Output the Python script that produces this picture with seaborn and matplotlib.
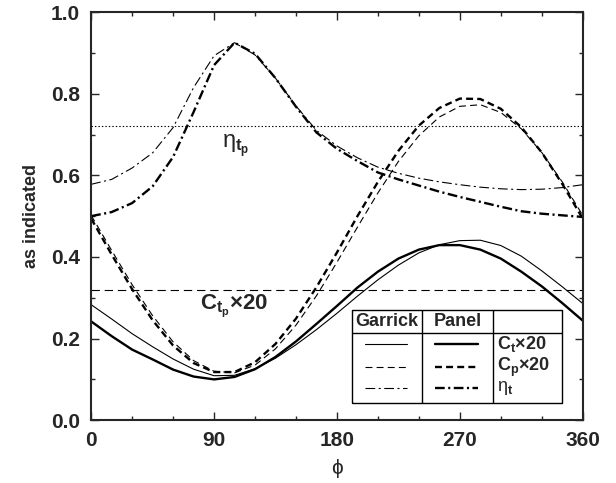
import numpy as np
import pandas as pd
import matplotlib
matplotlib.use("Agg")
import matplotlib.pyplot as plt
import seaborn as sns

# ------------------------------------------------------------
# values (phi in degrees)
# ------------------------------------------------------------
phi = [0, 15, 30, 45, 60, 75, 90, 105, 120, 135, 150, 165, 180,
       195, 210, 225, 240, 255, 270, 285, 300, 315, 330, 345, 360]

ct_garrick = [0.283, 0.248, 0.212, 0.180, 0.150, 0.125, 0.109, 0.110, 0.126,
              0.152, 0.185, 0.222, 0.262, 0.304, 0.344, 0.380, 0.410, 0.430,
              0.440, 0.441, 0.428, 0.402, 0.366, 0.327, 0.286]
ct_panel = [0.242, 0.206, 0.173, 0.149, 0.124, 0.107, 0.100, 0.106, 0.125,
            0.155, 0.193, 0.236, 0.280, 0.325, 0.364, 0.396, 0.418, 0.429,
            0.429, 0.418, 0.396, 0.364, 0.328, 0.287, 0.244]
cp_garrick = [0.502, 0.416, 0.332, 0.256, 0.192, 0.146, 0.120, 0.116, 0.135,
              0.175, 0.233, 0.305, 0.387, 0.473, 0.557, 0.634, 0.697, 0.743,
              0.769, 0.773, 0.754, 0.714, 0.656, 0.584, 0.502]
cp_panel = [0.494, 0.406, 0.321, 0.245, 0.183, 0.140, 0.118, 0.118, 0.142,
            0.187, 0.249, 0.326, 0.411, 0.500, 0.584, 0.660, 0.722, 0.765,
            0.788, 0.787, 0.763, 0.718, 0.656, 0.579, 0.494]
eta_garrick = [0.578, 0.590, 0.618, 0.655, 0.717, 0.815, 0.893, 0.925, 0.895,
               0.838, 0.770, 0.710, 0.672, 0.643, 0.620, 0.605, 0.593, 0.584,
               0.577, 0.571, 0.567, 0.565, 0.566, 0.570, 0.577]
eta_panel = [0.500, 0.510, 0.532, 0.573, 0.645, 0.755, 0.870, 0.925, 0.898,
             0.838, 0.768, 0.705, 0.665, 0.635, 0.607, 0.590, 0.575, 0.560,
             0.547, 0.535, 0.523, 0.512, 0.506, 0.502, 0.498]

eta_tp = 0.72      # propulsive efficiency (dotted)
ct_tp = 0.32       # mean thrust x20 (dashed)

xticks = [0, 90, 180, 270, 360]
yticks = [0.0, 0.2, 0.4, 0.6, 0.8, 1.0]

# ------------------------------------------------------------
# style
# ------------------------------------------------------------
sns.set_style("ticks")
plt.rcParams["font.family"] = ["Liberation Sans", "DejaVu Sans"]
plt.rcParams["mathtext.fontset"] = "custom"
plt.rcParams["mathtext.rm"] = "Liberation Sans"
plt.rcParams["mathtext.it"] = "Liberation Sans"
plt.rcParams["mathtext.bf"] = "Liberation Sans:bold"
plt.rcParams["lines.scale_dashes"] = False

fig, ax = plt.subplots(figsize=(6.16, 4.83), dpi=100)
fig.subplots_adjust(left=0.148, right=0.946, bottom=0.130, top=0.975)

thin, thick = 0.8, 1.7
solid = "-"
dash = (0, (5, 3))
dashdot = (0, (7, 2.5, 1.5, 2.5))

series = [
    (ct_garrick, solid, thin), (ct_panel, solid, thick),
    (cp_garrick, dash, thin), (cp_panel, dash, thick),
    (eta_garrick, dashdot, thin), (eta_panel, dashdot, thick),
]
for vals, ls, lw in series:
    df = pd.DataFrame({"phi": phi, "val": vals})
    sns.lineplot(data=df, x="phi", y="val", ax=ax, color="black",
                 linewidth=lw, linestyle=ls)

ax.axhline(eta_tp, color="black", linewidth=0.8, linestyle=(0, (1, 1.5)))
ax.axhline(ct_tp, color="black", linewidth=0.8, linestyle=(0, (6, 3.5)))

ax.text(0.266, 0.672, r"$\eta_{\mathbf{t_p}}$", transform=ax.transAxes,
        fontsize=17, va="center", ha="left")
ax.text(0.222, 0.272, r"$\mathbf{C_{t_p}}$×20", transform=ax.transAxes,
        fontsize=16, fontweight="bold", va="baseline", ha="left")

# ------------------------------------------------------------
# table-style legend
# ------------------------------------------------------------
L, R, c1, c2 = 0.530, 0.957, 0.673, 0.817
T, H, B = 0.270, 0.213, 0.042
box_kw = dict(color="black", linewidth=1.0, transform=ax.transAxes,
              solid_capstyle="butt")
ax.plot([L, R, R, L, L], [B, B, T, T, B], **box_kw)
ax.plot([L, R], [H, H], **box_kw)
ax.plot([c1, c1], [B, T], **box_kw)
ax.plot([c2, c2], [B, T], **box_kw)

ax.text((L + c1) / 2, (T + H) / 2, "Garrick", transform=ax.transAxes,
        fontsize=13, fontweight="bold", ha="center", va="center")
ax.text((c1 + c2) / 2, (T + H) / 2, "Panel", transform=ax.transAxes,
        fontsize=13, fontweight="bold", ha="center", va="center")

rows = [0.186, 0.130, 0.078]
labels = [r"$\mathbf{C_t}$×20", r"$\mathbf{C_p}$×20", r"$\eta_{\mathbf{t}}$"]
styles = [solid, dash, dashdot]
for y, lab, ls in zip(rows, labels, styles):
    ax.plot([0.557, 0.642], [y, y], color="black", linewidth=thin,
            linestyle=ls, transform=ax.transAxes)
    ax.plot([0.699, 0.787], [y, y], color="black", linewidth=thick,
            linestyle=ls, transform=ax.transAxes)
    ax.text(0.826, y, lab, transform=ax.transAxes, fontsize=13,
            fontweight="bold" if "eta" not in lab else "normal",
            ha="left", va="center")

# ------------------------------------------------------------
# axes
# ------------------------------------------------------------
ax.set_xlim(0, 360)
ax.set_ylim(0, 1.0)
ax.set_xticks(xticks)
ax.set_yticks(yticks)
ax.set_xticks(range(0, 361, 30), minor=True)
ax.set_yticks(np.arange(0, 1.01, 0.1), minor=True)
ax.set_yticklabels([f"{v:.1f}" for v in yticks])
ax.tick_params(which="both", direction="in", top=True, right=True, width=1.0)
ax.tick_params(which="major", length=6, labelsize=15, pad=8)
ax.tick_params(which="minor", length=3)
for lab in ax.get_xticklabels() + ax.get_yticklabels():
    lab.set_fontweight("bold")
for sp in ax.spines.values():
    sp.set_linewidth(1.5)
    sp.set_visible(True)

ax.set_xlabel("ϕ", fontsize=15, labelpad=6)
ax.set_ylabel("as indicated", fontsize=13, fontweight="bold", labelpad=8)

fig.savefig("out.png", dpi=100)
